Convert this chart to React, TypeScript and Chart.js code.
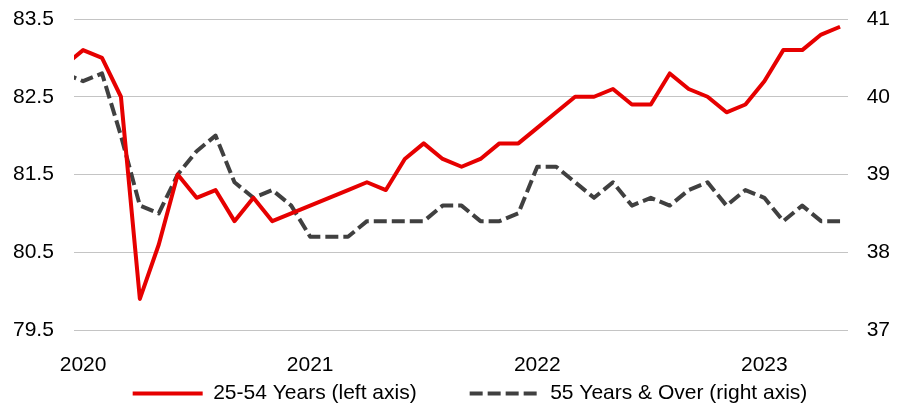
import React, { useEffect, useRef } from "react";
import { Chart, registerables } from "chart.js";

Chart.register(...registerables);

// Monthly observations, Dec 2019 through May 2023
const startYear = 2019;
const startMonth = 12;

// Employment-population ratio, 25-54 years (left axis, %)
const prime2554: number[] = [
  82.9,
  83.1, 83.0, 82.5, 79.9, 80.6, 81.5, 81.2, 81.3, 80.9, 81.2, 80.9, 81.0,
  81.1, 81.2, 81.3, 81.4, 81.3, 81.7, 81.9, 81.7, 81.6, 81.7, 81.9, 81.9,
  82.1, 82.3, 82.5, 82.5, 82.6, 82.4, 82.4, 82.8, 82.6, 82.5, 82.3, 82.4,
  82.7, 83.1, 83.1, 83.3, 83.4,
];

// 55 years & over (right axis, %)
const over55: number[] = [
  40.3,
  40.2, 40.3, 39.5, 38.6, 38.5, 39.0, 39.3, 39.5, 38.9, 38.7, 38.8, 38.6,
  38.2, 38.2, 38.2, 38.4, 38.4, 38.4, 38.4, 38.6, 38.6, 38.4, 38.4, 38.5,
  39.1, 39.1, 38.9, 38.7, 38.9, 38.6, 38.7, 38.6, 38.8, 38.9, 38.6, 38.8,
  38.7, 38.4, 38.6, 38.4, 38.4,
];

const yearLabels = ["2020", "2021", "2022", "2023"];
const seriesNames = ["25-54 Years (left axis)", "55 Years & Over (right axis)"];

// month index relative to Jan 2020
const monthIndex = (i: number) => (startYear - 2020) * 12 + (startMonth - 1) + i;

const FONT = "'Liberation Sans', Arial, Helvetica, sans-serif";
const RED = "#e60000";
const GREY = "#404040";

export default function App() {
  const ref = useRef<HTMLCanvasElement | null>(null);

  useEffect(() => {
    if (!ref.current) return;
    Chart.defaults.font.family = FONT;
    const chart = new Chart(ref.current, {
      type: "line",
      data: {
        datasets: [
          {
            label: seriesNames[0],
            data: prime2554.map((v, i) => ({ x: monthIndex(i), y: v })),
            borderColor: RED,
            backgroundColor: RED,
            borderWidth: 4,
            pointRadius: 0,
            tension: 0,
            borderJoinStyle: "round",
            yAxisID: "y",
          },
          {
            label: seriesNames[1],
            data: over55.map((v, i) => ({ x: monthIndex(i), y: v })),
            borderColor: GREY,
            backgroundColor: GREY,
            borderWidth: 4,
            borderDash: [13, 5],
            pointRadius: 0,
            tension: 0,
            borderJoinStyle: "round",
            yAxisID: "y2",
          },
        ],
      },
      options: {
        responsive: false,
        animation: false,
        events: [],
        layout: { padding: { top: 19, left: 50, right: 13, bottom: 0 } },
        plugins: {
          tooltip: { enabled: false },
          legend: {
            position: "bottom",
            maxHeight: 75,
            labels: {
              usePointStyle: true,
              pointStyleWidth: 70,
              padding: 53,
              color: "#000",
              font: { size: 21, family: FONT },
              generateLabels: (c: any) =>
                c.data.datasets.map((ds: any, i: number) => ({
                  text: ds.label,
                  fillStyle: ds.borderColor,
                  strokeStyle: ds.borderColor,
                  lineWidth: ds.borderWidth,
                  lineDash: ds.borderDash || [],
                  lineCap: "butt",
                  pointStyle: "line",
                  hidden: false,
                  datasetIndex: i,
                })),
            },
          },
        },
        scales: {
          x: {
            type: "linear",
            min: -0.48,
            max: 40.42,
            grid: { display: false, drawTicks: false },
            border: { display: false },
            afterBuildTicks: (s: any) => {
              s.ticks = yearLabels.map((_, k) => ({ value: k * 12 }));
            },
            afterFit: (s: any) => {
              s.height = 0;
            },
            ticks: {
              autoSkip: false,
              maxRotation: 0,
              mirror: true,
              padding: -48,
              color: "#000",
              font: { size: 21, family: FONT },
              callback: (v: any) => yearLabels[Math.round(Number(v) / 12)] ?? "",
            },
          },
          y: {
            position: "left",
            min: 79.5,
            max: 83.5,
            grid: { color: "#c4c4c4", lineWidth: 1, drawTicks: false },
            border: { display: false },
            afterFit: (s: any) => {
              s.width = 24;
            },
            ticks: {
              stepSize: 1,
              mirror: true,
              crossAlign: "near",
              padding: -61,
              color: "#000",
              font: { size: 21, family: FONT },
              callback: (v: any) => Number(v).toFixed(1),
            },
          },
          y2: {
            position: "right",
            min: 37,
            max: 41,
            grid: { drawOnChartArea: false, drawTicks: false },
            border: { display: false },
            afterFit: (s: any) => {
              s.width = 42;
            },
            ticks: {
              stepSize: 1,
              crossAlign: "far",
              padding: 0,
              color: "#000",
              font: { size: 21, family: FONT },
              callback: (v: any) => String(Math.round(Number(v))),
            },
          },
        },
      } as any,
    });
    return () => chart.destroy();
  }, []);

  return (
    <div style={{ position: "absolute", left: 0, top: 0, width: 903, height: 405, background: "#fff" }}>
      <canvas ref={ref} width={903} height={405} style={{ display: "block" }} />
    </div>
  );
}
